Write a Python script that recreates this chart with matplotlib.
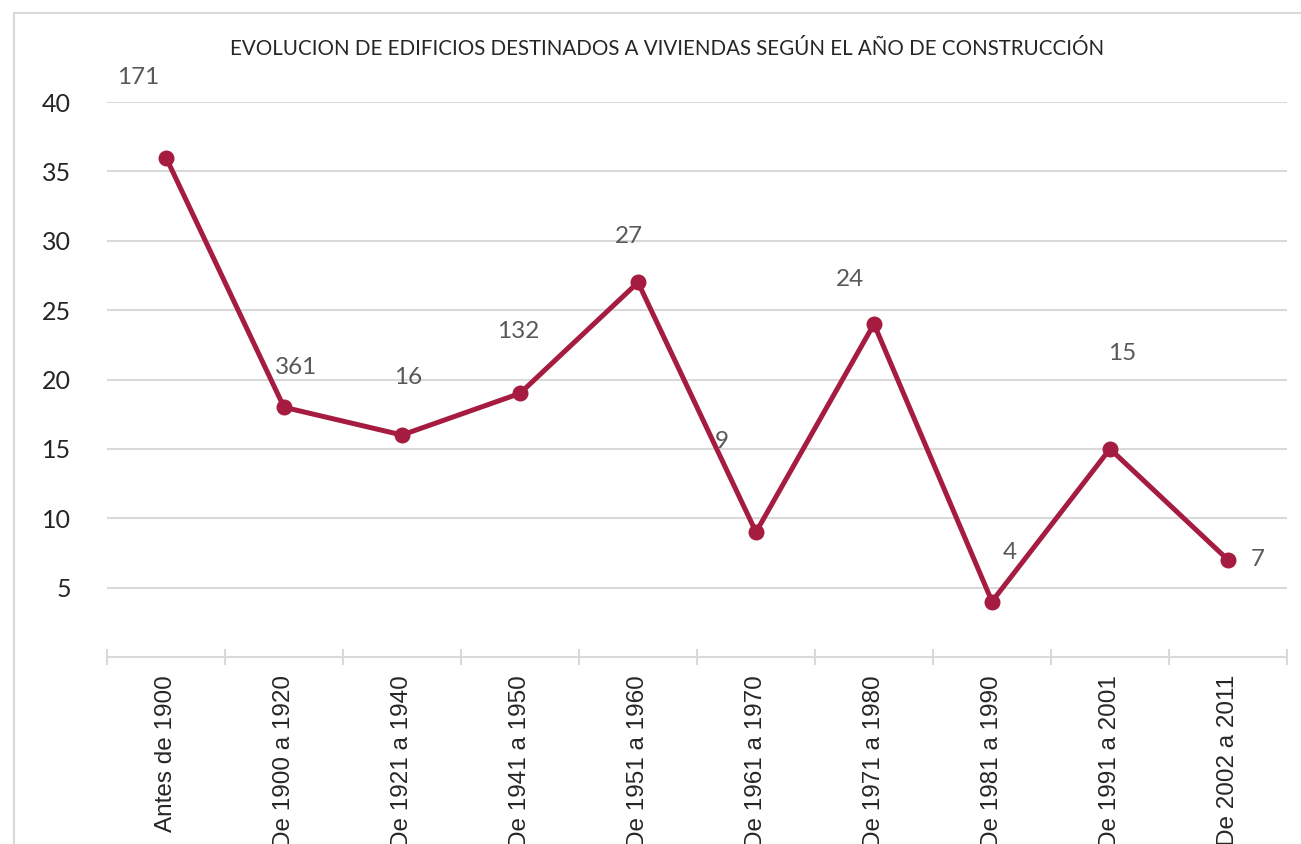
import matplotlib
matplotlib.use('Agg')
import matplotlib.pyplot as plt
from matplotlib.lines import Line2D

# datos del grafico
periodos = ['Antes de 1900', 'De 1900 a 1920', 'De 1921 a 1940', 'De 1941 a 1950',
            'De 1951 a 1960', 'De 1961 a 1970', 'De 1971 a 1980', 'De 1981 a 1990',
            'De 1991 a 2001', 'De 2002 a 2011']
valores = [36, 18, 16, 19, 27, 9, 24, 4, 15, 7]
etiquetas = ['171', '361', '16', '132', '27', '9', '24', '4', '15', '7']
# desplazamiento de cada etiqueta respecto a su punto (pixeles)
desplaz = [(-28, 80), (12, 40), (6, 58), (-2, 62), (-9, 46), (-34, 91),
           (-24, 44), (18, 49), (12, 95), (30, 0)]
yticks = [5, 10, 15, 20, 25, 30, 35, 40]

titulo = 'EVOLUCION DE EDIFICIOS DESTINADOS A VIVIENDAS SEGÚN EL AÑO DE CONSTRUCCIÓN'

W, H = 1301, 844
color = '#A51C40'
gris = '#D9D9D9'

fig = plt.figure(figsize=(W / 100, H / 100), dpi=100)
ax = fig.add_axes([107 / W, 1 - 657 / H, (1287 - 107) / W, (657 - 102) / H])

x = list(range(len(valores)))
ax.plot(x, valores, color=color, lw=3.6, marker='o', markersize=10.5,
        solid_joinstyle='miter', clip_on=False, zorder=3)

for xi, yi, lab, (dx, dy) in zip(x, valores, etiquetas, desplaz):
    ax.annotate(lab, (xi, yi), xytext=(dx, dy), textcoords='offset pixels',
                ha='center', va='center', fontsize=17.5, color='#595959',
                family='Lato', annotation_clip=False)

ax.set_xlim(-0.5, len(valores) - 0.5)
ax.set_ylim(0, 40)
ax.set_yticks(yticks)
ax.set_yticklabels([str(v) for v in yticks], family='Lato', fontsize=18, color='#262626')
ax.tick_params(axis='y', length=0, pad=26)
ax.grid(axis='y', color=gris, lw=1.5)
ax.set_axisbelow(True)

ax.set_xticks(x)
ax.set_xticklabels(periodos, rotation=90, family='Liberation Sans', fontsize=17.5,
                   color='#262626')
ax.set_xticks([i - 0.5 for i in range(len(valores) + 1)], minor=True)
ax.tick_params(axis='x', which='major', length=0, pad=13)
ax.tick_params(axis='x', which='minor', length=12, width=1.5, color=gris,
               direction='inout')

for s in ['top', 'right', 'left']:
    ax.spines[s].set_visible(False)
ax.spines['bottom'].set_color(gris)
ax.spines['bottom'].set_linewidth(1.5)

fig.text(667 / W, 1 - 49 / H, titulo, ha='center', va='center',
         family='Lato', fontsize=14.8, color='#262626')

# marco del area del grafico
fig.add_artist(Line2D([14 / W, 14 / W], [0, 1 - 13 / H], color=gris, lw=1.5,
                      transform=fig.transFigure))
fig.add_artist(Line2D([14 / W, 1], [1 - 13 / H, 1 - 13 / H], color=gris, lw=1.5,
                      transform=fig.transFigure))

fig.savefig('out.png', dpi=100)
